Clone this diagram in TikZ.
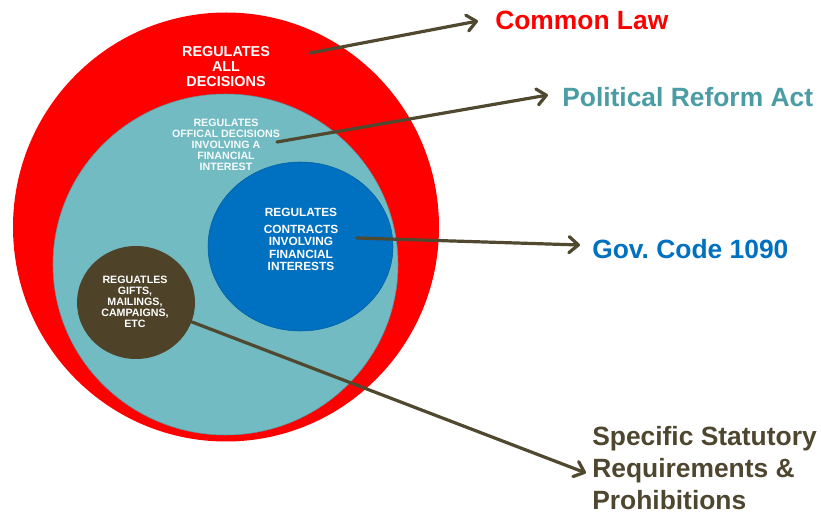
\documentclass[tikz,border=0pt]{standalone}
\usepackage{fontspec}
\setmainfont{Liberation Sans}
\usetikzlibrary{shapes.geometric,arrows.meta}
\definecolor{cred}{HTML}{FF0000}
\definecolor{cteal}{HTML}{72BBC2}
\definecolor{cblue}{HTML}{0070C0}
\definecolor{cbrown}{HTML}{4E4229}
\definecolor{carrow}{HTML}{50482F}
\definecolor{ctealtxt}{HTML}{4A9CA5}
\definecolor{cbrowntxt}{HTML}{4F4630}
\tikzset{
  zone/.style={ellipse,inner sep=0pt},
  intext/.style={text=white,align=center,font=\bfseries,inner sep=0pt},
  biglabel/.style={anchor=west,inner sep=0pt,align=left,font=\fontsize{19.8}{24}\selectfont\bfseries},
  conn/.style={draw=carrow,line width=2.4pt,line cap=round,-{Straight Barb[length=7pt,width=12pt,line cap=round,line join=round]}}
}
\begin{document}
\begin{tikzpicture}[x=0.75pt,y=-0.75pt]
\useasboundingbox[fill=white] (0,0) rectangle (821,516);
% zones
\node[zone,fill=cred,minimum width=319.5pt,minimum height=321.75pt] (law) at (226,227) {};
\node[zone,fill=cteal,draw=cteal!80!black,line width=0.4pt,minimum width=258.75pt,minimum height=255.75pt] (pra) at (225.5,264.5) {};
\node[zone,fill=cblue,draw=cblue!85!black,line width=0.4pt,minimum width=138.75pt,minimum height=126.75pt] (gov) at (300.5,246.5) {};
\node[zone,fill=cbrown,minimum width=88.5pt,minimum height=84.75pt] (stat) at (136,302.5) {};
% inner texts
\node[intext,font=\fontsize{10.8}{11.25}\selectfont\bfseries] (tlaw) at (226,67) {REGULATES\\ALL\\DECISIONS};
\node[intext,text=white!94!cteal,font=\fontsize{8}{8.25}\selectfont\bfseries] (tpra) at (226,145) {REGULATES\\OFFICAL DECISIONS\\INVOLVING A\\FINANCIAL\\INTEREST};
\node[intext,font=\fontsize{8.9}{9.25}\selectfont\bfseries] (tgov) at (301,239.5) {REGULATES\\[3.4pt]CONTRACTS\\INVOLVING\\FINANCIAL\\INTERESTS};
\node[intext,font=\fontsize{8}{8.25}\selectfont\bfseries] (tstat) at (135,302) {REGUATLES\\GIFTS,\\MAILINGS,\\CAMPAIGNS,\\ETC};
% labels
\node[biglabel,text=cred] (lcl) at (495,20) {Common Law};
\node[biglabel,text=ctealtxt] (lpra) at (562,97) {Political Reform Act};
\node[biglabel,text=cblue] (lgov) at (592,249) {Gov.\ Code 1090};
\node[biglabel,text=cbrowntxt] (lstat) at (592,468) {Specific Statutory\\Requirements \&\\Prohibitions};
% connector start points
\coordinate (s1) at (310,53);
\coordinate (s2) at (277,142);
\coordinate (s3) at (357,238);
\coordinate (s4) at (192,322);
\coordinate (e1) at (478,21);
\coordinate (e2) at (548,95);
\coordinate (e3) at (580,245);
\coordinate (e4) at (586,473);
\draw[conn] (s1) -- (e1);
\draw[conn] (s2) -- (e2);
\draw[conn] (s3) -- (e3);
\draw[conn] (s4) -- (e4);
\end{tikzpicture}
\end{document}
